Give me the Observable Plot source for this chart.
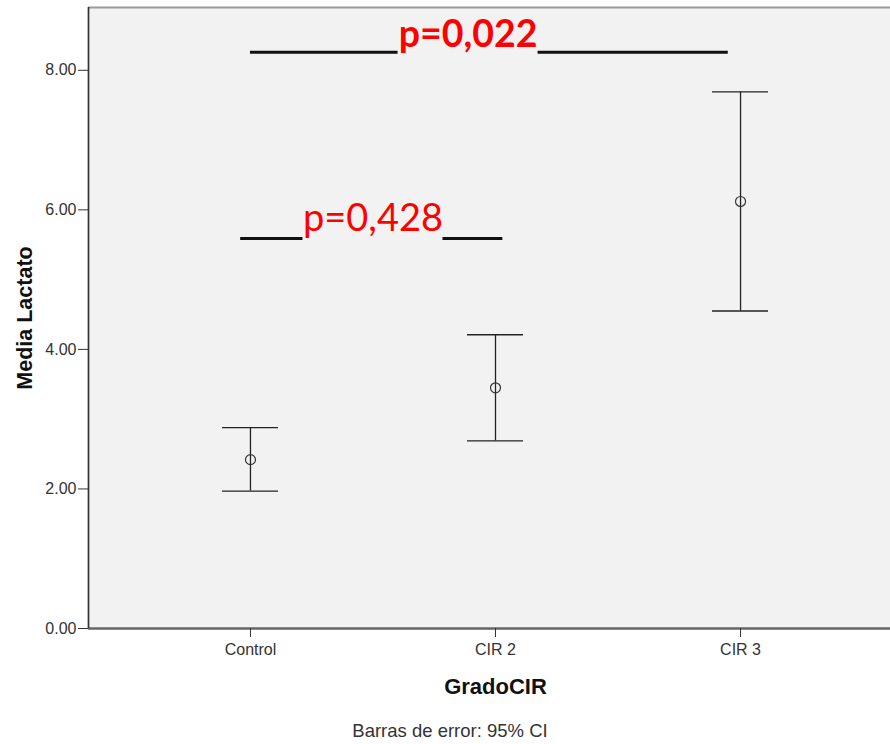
<!DOCTYPE html>
<html>
<head>
<meta charset="utf-8">
<script src="https://cdn.jsdelivr.net/npm/d3@7"></script>
<script src="https://cdn.jsdelivr.net/npm/@observablehq/plot@0.6"></script>
<style>
  html, body { margin: 0; padding: 0; background: #fff; }
  #chart svg { display: block; }
  #caption { margin-top: 17px; line-height: 1; font-size: 18.5px; color: #333;
    font-family: "Liberation Sans", Arial, sans-serif; text-align: center; padding-left: 10px; width: 880px; }
</style>
</head>
<body>
<div id="chart"></div>
<div id="caption">Barras de error: 95% CI</div>
<script>
// Categories and values (mean with 95% CI)
const categories = ["Control", "CIR 2", "CIR 3"];
const means = [2.42, 3.45, 6.12];
const lower = [1.97, 2.69, 4.55];
const upper = [2.88, 4.21, 7.69];
const yTicks = [0, 2, 4, 6, 8];

// Significance annotations (in data units: category index and y level)
const pLabels = ["p=0,022", "p=0,428"];
const pFrom = [0, -0.04];
const pTo = [1.95, 1.03];
const pTextX = [0.888, 0.5];
const pY = [8.26, 5.59];

const rows = categories.map((c, i) => ({i, c, mean: means[i], lo: lower[i], hi: upper[i]}));
const notes = pLabels.map((label, k) => ({label, from: pFrom[k], to: pTo[k], tx: pTextX[k], y: pY[k], k}));

const xDomain = [-0.661, 2.612];
const yDomain = [0, 8.9];

const chart = Plot.plot({
  width: 890,
  height: 705,
  marginLeft: 88,
  marginRight: 0,
  marginTop: 7,
  marginBottom: 77,
  style: {fontFamily: "'Liberation Sans', Arial, sans-serif", background: "#fff", color: "#222"},
  x: {domain: xDomain},
  y: {domain: yDomain},
  marks: [
    Plot.frame({fill: "#f2f2f2", stroke: "none"}),
    Plot.ruleY([yDomain[1]], {stroke: "#9a9a9a", strokeWidth: 2}),
    Plot.ruleY([0], {stroke: "#666", strokeWidth: 2.5}),
    Plot.ruleX([xDomain[0]], {stroke: "#333", strokeWidth: 1.7}),
    Plot.axisY({ticks: yTicks, tickFormat: d3.format(".2f"), tickSize: 10, tickPadding: 2,
      fontSize: 16, label: null, stroke: "#333", fill: "#333"}),
    Plot.axisX({ticks: [0, 1, 2], tickFormat: i => categories[i], tickSize: 9, tickPadding: 6,
      fontSize: 16, label: null, stroke: "#333", fill: "#333"}),
    // error bars
    Plot.ruleX(rows, {x: "i", y1: "lo", y2: "hi", stroke: "#222", strokeWidth: 1.3}),
    Plot.ruleY(rows, {x1: "i", x2: "i", y: "hi", insetLeft: -28, insetRight: -28, stroke: "#222", strokeWidth: 1.3}),
    Plot.ruleY(rows, {x1: "i", x2: "i", y: "lo", insetLeft: -28, insetRight: -28, stroke: "#222", strokeWidth: 1.3}),
    Plot.dot(rows, {x: "i", y: "mean", r: 5, stroke: "#333", strokeWidth: 1.2, fill: "none"}),
    // significance lines
    Plot.ruleY(notes, {y: "y", x1: "from", x2: "tx", insetRight: 70, stroke: "#111", strokeWidth: 3}),
    Plot.ruleY(notes, {y: "y", x1: "tx", x2: "to", insetLeft: 70, stroke: "#111", strokeWidth: 3}),
    Plot.text(notes.filter(d => d.k === 0), {x: "tx", y: "y", text: "label", fill: "#ff0000",
      fontSize: 37.5, fontWeight: "bold", fontFamily: "Lato, 'Open Sans', sans-serif", lineAnchor: "bottom", dy: -5}),
    Plot.text(notes.filter(d => d.k === 1), {x: "tx", y: "y", text: "label", fill: "#ff0000",
      fontSize: 38, fontFamily: "Lato, 'Open Sans', sans-serif", lineAnchor: "bottom", dy: -7}),
    // axis titles
    Plot.text(["Media Lactato"], {text: d => d, frameAnchor: "left", textAnchor: "middle", dx: -63, rotate: -90,
      fontSize: 21.5, fontWeight: "bold", fill: "#111"}),
    Plot.text(["GradoCIR"], {text: d => d, frameAnchor: "bottom", lineAnchor: "bottom", dx: 6, dy: 65,
      fontSize: 22, fontWeight: "bold", fill: "#111"})
  ]
});
document.getElementById("chart").appendChild(chart);
</script>
</body>
</html>
